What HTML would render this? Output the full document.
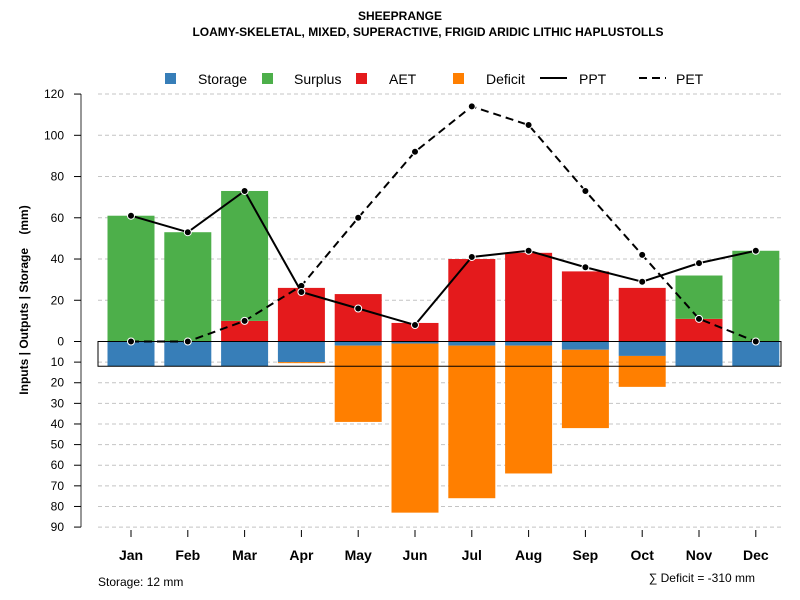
<!DOCTYPE html>
<html><head><meta charset="utf-8"><style>
body{margin:0;background:#fff}
svg{display:block;font-family:"Liberation Sans",sans-serif}
</style></head><body>
<svg id="chart" width="800" height="600"></svg>
<script>
const months=["Jan","Feb","Mar","Apr","May","Jun","Jul","Aug","Sep","Oct","Nov","Dec"];
const ppt=[61,53,73,24,16,8,41,44,36,29,38,44];
const pet=[0,0,10,27,60,92,114,105,73,42,11,0];
const aet=[0,0,10,26,23,9,40,43,34,26,11,0];
const surplus=[61,53,63,0,0,0,0,0,0,0,21,44];
const storage=[12,12,12,10,2,1,2,2,4,7,12,12];
const deficit=[0,0,0,0.5,37,82,74,62,38,15,0,0];
const posTicks=[0,20,40,60,80,100,120];
const negTicks=[10,20,30,40,50,60,70,80,90];
const awc=12;

const NS="http://www.w3.org/2000/svg";
const svg=document.getElementById('chart');
function el(t,a,p){const e=document.createElementNS(NS,t);for(const k in a)e.setAttribute(k,a[k]);(p||svg).appendChild(e);return e;}
const y0=341.5,k=2.062;
const yPos=v=>y0-v*k;
const yNeg=v=>y0+v*k;
const xC=i=>131+i*56.8;
const bw=47;

posTicks.concat(negTicks.map(v=>-v)).forEach(v=>{
 if(v===0)return;
 const y=v>0?yPos(v):yNeg(-v);
 const g=el('line',{x1:98,x2:781,y1:y,y2:y,stroke:'#c4c4c4','stroke-dasharray':'4,3'});
 
});
const ax=el('line',{x1:81,x2:81,y1:yPos(120),y2:yNeg(90),stroke:'#777','stroke-width':1.5});

function tick(y,label){
 el('line',{x1:74,x2:81,y1:y,y2:y,stroke:'#000'});
 const t=el('text',{x:64,y:y+4,'text-anchor':'end','font-size':12});t.textContent=label;
 
}
posTicks.forEach(v=>tick(yPos(v),v));
negTicks.forEach(v=>tick(yNeg(v),v));

const colors={storage:'#377EB8',surplus:'#4DAF4A',aet:'#E41A1C',deficit:'#FF7F00'};
function bar(i,top,bot,c,name){
 if(bot-top<=0)return;
 const r=el('rect',{x:xC(i)-bw/2,y:top,width:bw,height:bot-top,fill:c});
 
}
months.forEach((m,i)=>{
 bar(i,yPos(aet[i]),y0,colors.aet,'bar-aet-'+m.toLowerCase());
 bar(i,yPos(aet[i]+surplus[i]),yPos(aet[i]),colors.surplus,'bar-surplus-'+m.toLowerCase());
 bar(i,y0,yNeg(storage[i]),colors.storage,'bar-storage-'+m.toLowerCase());
 bar(i,yNeg(storage[i]),yNeg(storage[i]+deficit[i]),colors.deficit,'bar-deficit-'+m.toLowerCase());
});
const box=el('rect',{x:98,y:y0,width:683,height:awc*k,fill:'none',stroke:'#000','stroke-width':1});


function line(arr,dash,name){
 const p=el('polyline',{points:arr.map((v,i)=>xC(i)+','+yPos(v)).join(' '),fill:'none',stroke:'#000','stroke-width':2,'stroke-dasharray':dash});
 
 arr.forEach((v,i)=>{const c=el('circle',{cx:xC(i),cy:yPos(v),r:3.5,fill:'#000',stroke:'#fff','stroke-width':1});
 });
}
line(pet,'8,5','pet-line');
line(ppt,'none','ppt-line');

months.forEach((m,i)=>{
 el('line',{x1:xC(i),x2:xC(i),y1:530,y2:537,stroke:'#000'});
 const t=el('text',{x:xC(i),y:560,'text-anchor':'middle','font-size':14,'font-weight':'bold'});t.textContent=m;
 
});

function text(x,y,s,attrs,name){const t=el('text',Object.assign({x:x,y:y},attrs));t.textContent=s;return t;}
text(400,20,'SHEEPRANGE',{'text-anchor':'middle','font-size':12,'font-weight':'bold'},'chart-title');
text(428,36,'LOAMY-SKELETAL, MIXED, SUPERACTIVE, FRIGID ARIDIC LITHIC HAPLUSTOLLS',{'text-anchor':'middle','font-size':12,'font-weight':'bold'},'chart-subtitle');
text(28,300,'Inputs | Outputs | Storage\u00a0\u00a0\u00a0\u00a0(mm)',{'text-anchor':'middle','font-size':12,'font-weight':'bold',transform:'rotate(-90 28 300)'},'y-axis-title');
text(98,586,'Storage: 12 mm',{'font-size':12},'storage-note');
text(755,582,'∑ Deficit = -310 mm',{'font-size':12,'text-anchor':'end'},'deficit-note');

const leg=[['Storage',colors.storage,165,198],['Surplus',colors.surplus,262,294],['AET',colors.aet,356,389],['Deficit',colors.deficit,453,486]];
leg.forEach(l=>{
 const r=el('rect',{x:l[2],y:73,width:11,height:11,fill:l[1]});
 text(l[3],84,l[0],{'font-size':14},'legend-entry-'+l[0].toLowerCase());
});
el('line',{x1:540,x2:567,y1:78,y2:78,stroke:'#000','stroke-width':2});
text(579,84,'PPT',{'font-size':14},'legend-entry-ppt');
el('line',{x1:639,x2:666,y1:78,y2:78,stroke:'#000','stroke-width':2,'stroke-dasharray':'8,5'});
text(676,84,'PET',{'font-size':14},'legend-entry-pet');
</script>
</body></html>
